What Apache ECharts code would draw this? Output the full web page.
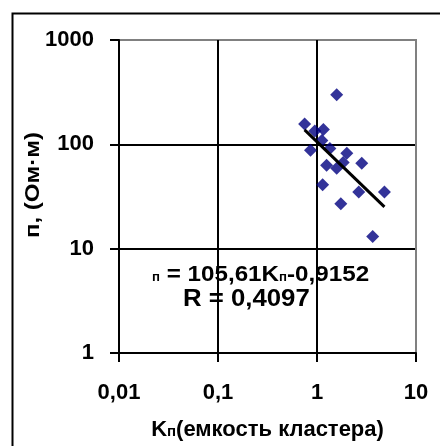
<!DOCTYPE html>
<html>
<head>
<meta charset="utf-8">
<script src="https://cdn.jsdelivr.net/npm/echarts@6/dist/echarts.min.js"></script>
<style>html,body{margin:0;padding:0;background:#fff;}#c{width:440px;height:446px;}</style>
</head>
<body>
<div id="c"></div>
<script>
// Data
var kn  = [1.58, 0.75, 0.95, 1.16, 0.86, 1.12, 1.35, 2.0, 1.25, 1.58, 1.84, 2.83, 1.14, 2.64, 4.8, 1.74, 3.65];
var rho = [298, 157, 134, 139, 88, 109, 91, 82, 63, 59, 67, 66, 41, 35, 35, 27, 13.1];
var xTicks = [0.01, 0.1, 1, 10];
var yTicks = [1, 10, 100, 1000];
var trendA = 105.61, trendB = -0.9152, trendR = '0,4097';

var FONT = 'Liberation Sans';
var pts = kn.map(function (v, i) { return [v, rho[i]]; });
var xmin = Math.min.apply(null, kn), xmax = Math.max.apply(null, kn);
var trend = [xmin, xmax].map(function (x) { return [x, trendA * Math.pow(x, trendB)]; });
function fmt(v) { return String(Number(Number(v).toPrecision(6))).replace('.', ','); }

var chart = echarts.init(document.getElementById('c'), null, {renderer: 'canvas'});
chart.setOption({
  animation: false,
  backgroundColor: '#fff',
  grid: {left: 119, right: 24, top: 40, bottom: 93, show: true, borderColor: '#808080', borderWidth: 2},
  xAxis: {
    type: 'log', logBase: 10, min: xTicks[0], max: xTicks[xTicks.length - 1],
    name: 'K{s|п}(емкость кластера)', nameLocation: 'middle', nameGap: 66,
    nameTextStyle: {fontFamily: FONT, fontWeight: 'bold', fontSize: 22, color: '#000',
      rich: {s: {fontFamily: FONT, fontWeight: 'bold', fontSize: 15, color: '#000', padding: [4, 0, 0, 0]}}},
    axisLine: {show: true, lineStyle: {color: '#000', width: 2}},
    axisTick: {show: true, length: 9, lineStyle: {color: '#000', width: 2}},
    axisLabel: {margin: 29, fontFamily: FONT, fontWeight: 'bold', fontSize: 22, color: '#000', formatter: fmt},
    splitLine: {show: true, lineStyle: {color: ['#000', '#000', '#000', '#808080'], width: 2}},
    minorTick: {show: false}
  },
  yAxis: {
    type: 'log', logBase: 10, min: yTicks[0], max: yTicks[yTicks.length - 1],
    axisLine: {show: true, lineStyle: {color: '#000', width: 2}},
    axisTick: {show: true, length: 9, lineStyle: {color: '#000', width: 2}},
    axisLabel: {margin: 25, fontFamily: FONT, fontWeight: 'bold', fontSize: 22, color: '#000', formatter: fmt},
    splitLine: {show: true, lineStyle: {color: ['#000', '#000', '#000', '#808080'], width: 2}}
  },
  series: [
    {type: 'scatter', data: pts, symbol: 'diamond', symbolSize: 13, itemStyle: {color: '#000080'}, z: 3},
    {type: 'line', data: trend, symbol: 'none', lineStyle: {color: '#000', width: 3}, z: 4}
  ],
  graphic: [
    {type: 'rect', left: 10, top: 11, z: -10, shape: {x: 0, y: 0, width: 460, height: 460},
     style: {fill: 'none', stroke: '#000', lineWidth: 2}},
    {type: 'text', x: 33, y: 185, rotation: Math.PI / 2, scaleX: 1.2,
     style: {text: 'п, (Ом·м)', fontFamily: FONT, fontWeight: 'bold', fontSize: 20, fill: '#000', align: 'center', verticalAlign: 'middle'}},
    {type: 'text', x: 152, y: 275, z: 10, scaleX: 1.1,
     style: {text: '{s|п} = ' + String(trendA).replace('.', ',') + 'K{s|п}' + String(trendB).replace('.', ','),
       rich: {s: {fontSize: 12, fontFamily: FONT, fontWeight: 'bold', fill: '#000', padding: [5, 0, 0, 0]}},
       fontFamily: FONT, fontWeight: 'bold', fontSize: 22, fill: '#000', align: 'left', verticalAlign: 'middle'}},
    {type: 'text', x: 183, y: 300, z: 10, scaleX: 1.12,
     style: {text: 'R = ' + trendR, fontFamily: FONT, fontWeight: 'bold', fontSize: 23, fill: '#000', align: 'left', verticalAlign: 'middle'}}
  ]
});
</script>
</body>
</html>
